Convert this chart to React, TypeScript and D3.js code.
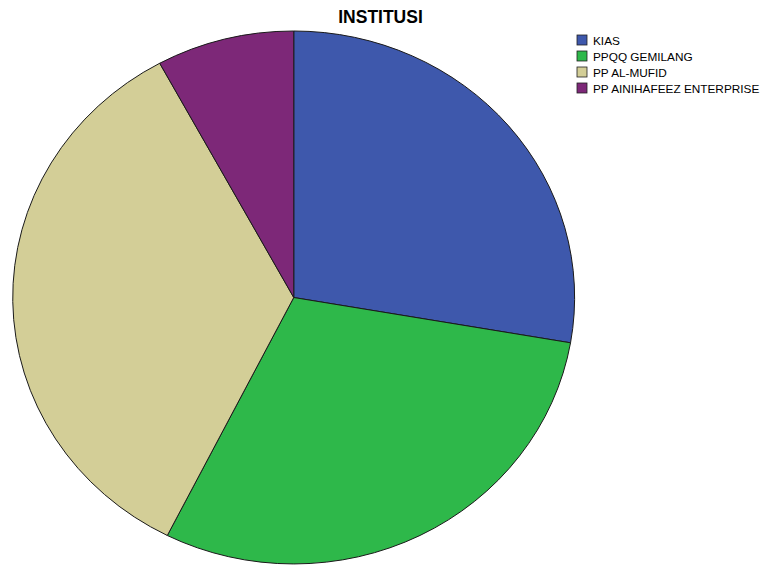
import React from "react";
import * as d3 from "d3";

const categories = ["KIAS", "PPQQ GEMILANG", "PP AL-MUFID", "PP AINIHAFEEZ ENTERPRISE"];
const values = [28, 30, 35, 8];
const colors = ["#3e58ac", "#2eb84a", "#d3ce97", "#7d2878"];
const title = "INSTITUSI";

export default function App() {
  const W = 761, H = 565;
  const cx = 293.75, cy = 297.5, rx = 281, ry = 266.5;
  const pie = d3.pie<number>().sort(null).value((d) => d);
  const arcs = pie(values);
  const arc = d3.arc<d3.PieArcDatum<number>>().innerRadius(0).outerRadius(1);
  return (
    <svg width={W} height={H} style={{ position: "absolute", left: 0, top: 0, background: "#fff" }}>
      <g transform={`translate(${cx},${cy}) scale(${rx},${ry})`}>
        {arcs.map((a, i) => (
          <path
            key={i}
            d={arc(a) || ""}
            fill={colors[i]}
            stroke="#1a1a1a"
            strokeWidth={1}
            vectorEffect="non-scaling-stroke"
            strokeLinejoin="round"
          />
        ))}
      </g>
      <text x={380.5} y={23} textAnchor="middle" fontFamily="Liberation Sans, Arial, sans-serif" fontWeight="bold" fontSize={17.5} fill="#000">
        {title}
      </text>
      {categories.map((c, i) => (
        <g key={c} transform={`translate(577,${35 + i * 16})`}>
          <rect x={0} y={0} width={10} height={10} fill={colors[i]} stroke="#222" strokeWidth={0.8} />
          <text x={16} y={9.5} fontFamily="Liberation Sans, Arial, sans-serif" fontSize={11.8} fill="#000">
            {c}
          </text>
        </g>
      ))}
    </svg>
  );
}
